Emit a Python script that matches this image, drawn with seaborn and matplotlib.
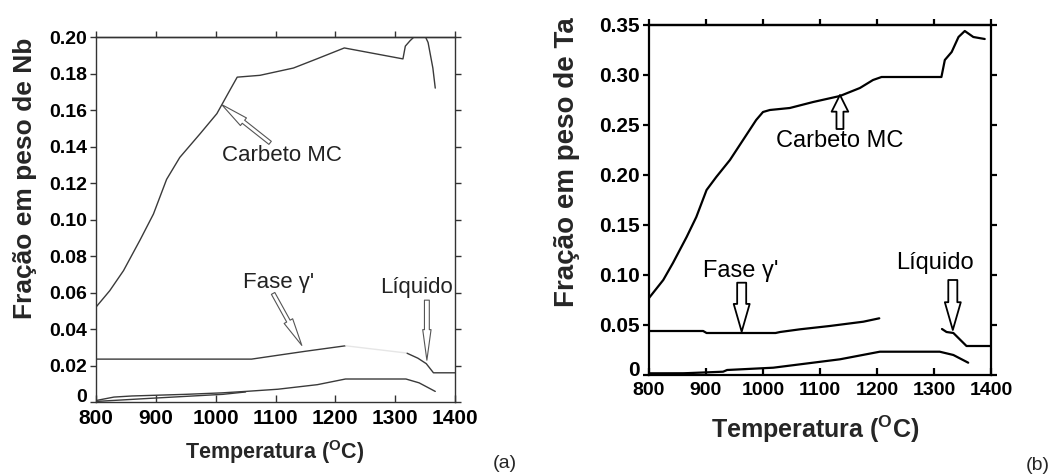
import matplotlib
matplotlib.use("Agg")
import matplotlib.pyplot as plt
import matplotlib.transforms as mtransforms
import seaborn as sns

# ---------------- data: panel (a) Nb ----------------
carb_a_T = [800, 823, 846, 874, 896, 918, 940, 974, 1002, 1024, 1036, 1074, 1130, 1169, 1215,
            1313, 1317, 1325, 1333, 1342, 1350, 1355, 1359, 1363, 1367]
carb_a_y = [0.052, 0.061, 0.072, 0.089, 0.103, 0.122, 0.134, 0.147, 0.158, 0.171, 0.178, 0.179,
            0.183, 0.188, 0.194, 0.188, 0.195, 0.198, 0.2005, 0.2008, 0.2005, 0.197, 0.19, 0.183, 0.172]
fase_a_T = [800, 1060, 1108, 1150, 1217]
fase_a_y = [0.0235, 0.0235, 0.0258, 0.0278, 0.0308]
fase_faded_a_T = [1217, 1320]
fase_faded_a_y = [0.0308, 0.0268]
liq_a_T = [1320, 1338, 1352, 1364, 1400]
liq_a_y = [0.0267, 0.0240, 0.0210, 0.0160, 0.0160]
low_a_T = [800, 830, 860, 950, 1010, 1050, 1104, 1170, 1217, 1318, 1340, 1367]
low_a_y = [0.0008, 0.0027, 0.0033, 0.0042, 0.0050, 0.0058, 0.0070, 0.0095, 0.0126, 0.0126, 0.0105, 0.0058]
low2_a_T = [800, 890, 1012, 1050]
low2_a_y = [0.0003, 0.0020, 0.0042, 0.0055]

# ---------------- data: panel (b) Ta ----------------
carb_b_T = [800, 825, 842, 866, 883, 901, 918, 942, 965, 988, 1000, 1012, 1047, 1088, 1135, 1170,
            1193, 1208, 1313, 1319, 1331, 1343, 1354, 1369, 1389]
carb_b_y = [0.077, 0.095, 0.112, 0.138, 0.158, 0.185, 0.198, 0.215, 0.235, 0.255, 0.263, 0.265,
            0.267, 0.273, 0.279, 0.287, 0.295, 0.298, 0.298, 0.315, 0.323, 0.338, 0.344, 0.338, 0.336]
fase_b_T = [800, 895, 901, 1022, 1030, 1065, 1117, 1176, 1204]
fase_b_y = [0.044, 0.044, 0.042, 0.042, 0.043, 0.0457, 0.049, 0.0533, 0.0567]
liq_b_T = [1314, 1322, 1334, 1357, 1400]
liq_b_y = [0.046, 0.043, 0.042, 0.029, 0.029]
low_b_T = [800, 860, 930, 937, 1018, 1135, 1205, 1310, 1334, 1360]
low_b_y = [0.0017, 0.0017, 0.0033, 0.0050, 0.0073, 0.0157, 0.0233, 0.0233, 0.0200, 0.0123]
low2_b_T = [800, 870]
low2_b_y = [0.0008, 0.0012]

x_ticks = [800, 900, 1000, 1100, 1200, 1300, 1400]
x_tick_labels = ["800", "900", "1000", "1100", "1200", "1300", "1400"]
y_ticks_a = [0, 0.02, 0.04, 0.06, 0.08, 0.10, 0.12, 0.14, 0.16, 0.18, 0.20]
y_tick_labels_a = ["0", "0.02", "0.04", "0.06", "0.08", "0.10", "0.12", "0.14", "0.16", "0.18", "0.20"]
y_ticks_b = [0, 0.05, 0.10, 0.15, 0.20, 0.25, 0.30, 0.35]
y_tick_labels_b = ["0", "0.05", "0.10", "0.15", "0.20", "0.25", "0.30", "0.35"]

xlabel = r"Temperatura ($\mathbf{^{O}}$C)"
ylabel_a = "Fração em peso de Nb"
ylabel_b = "Fração em peso de Ta"

# ---------------- style ----------------
sns.set_theme(style="white")
plt.rcParams["font.family"] = ["Liberation Sans", "DejaVu Sans"]
plt.rcParams["mathtext.fontset"] = "custom"
plt.rcParams["mathtext.bf"] = "Liberation Sans:bold"
plt.rcParams["mathtext.rm"] = "Liberation Sans"

fig = plt.figure(figsize=(10.56, 4.75), dpi=100)
fig.patch.set_facecolor("white")

ax_a = fig.add_axes([96 / 1056, 1 - 402 / 475, 359 / 1056, 365 / 475])
ax_b = fig.add_axes([649 / 1056, 1 - 375 / 475, 342 / 1056, 350 / 475])


def line(ax, T, y, color, lw):
    sns.lineplot(x=T, y=y, ax=ax, color=color, lw=lw, sort=False, estimator=None, legend=False)


def style_axes(ax, yt, ytl, color, lw, xfs, yfs, xpad):
    ax.set_xlim(800, 1400)
    ax.set_ylim(yt[0], yt[-1])
    ax.set_xticks(x_ticks)
    ax.set_xticklabels(x_tick_labels, fontsize=xfs, fontweight="bold")
    ax.set_yticks(yt)
    ax.set_yticklabels(ytl, fontsize=yfs, fontweight="bold")
    for s in ax.spines.values():
        s.set_visible(True)
        s.set_color(color)
        s.set_linewidth(lw)
    ax.tick_params(axis="x", direction="in", length=5, width=lw, color=color, pad=xpad,
                   bottom=True, top=False, labelcolor="black")
    ax.tick_params(axis="y", direction="out", length=4.5, width=lw, color=color, pad=2,
                   left=True, right=True, labelleft=True, labelright=False, labelcolor="black")
    # lift the "0" label slightly so it sits just above the "800" label
    lab0 = ax.get_yticklabels()[0]
    lab0.set_transform(lab0.get_transform() +
                       mtransforms.ScaledTranslation(0, 4.5 / 72, fig.dpi_scale_trans))
    sec = ax.secondary_xaxis("top")
    sec.set_xticks(x_ticks)
    sec.tick_params(direction="out", length=4.5, width=lw, color=color, labeltop=False)
    sec.spines["top"].set_color(color)
    sec.spines["top"].set_linewidth(lw)
    ax.grid(False)


def block_arrow(ax, tail, tip, hl, hw, tw, ec, lw):
    ax.annotate("", xy=tip, xytext=tail, xycoords="data", textcoords="data",
                arrowprops=dict(arrowstyle=f"simple,head_length={hl},head_width={hw},tail_width={tw}",
                                fc="white", ec=ec, lw=lw, shrinkA=0, shrinkB=0, mutation_scale=10))


# ---------------- panel (a) ----------------
ca = "#3a3a3a"
line(ax_a, carb_a_T, carb_a_y, ca, 1.0)
line(ax_a, fase_a_T, fase_a_y, ca, 1.0)
line(ax_a, fase_faded_a_T, fase_faded_a_y, "#e6e6e6", 1.0)
line(ax_a, liq_a_T, liq_a_y, ca, 1.0)
line(ax_a, low_a_T, low_a_y, ca, 1.0)
line(ax_a, low2_a_T, low2_a_y, ca, 1.0)
style_axes(ax_a, y_ticks_a, y_tick_labels_a, "#333333", 1.0, 15, 14, 5)
ax_a.set_xlabel(xlabel, fontsize=15.5, fontweight="bold")
ax_a.set_ylabel(ylabel_a, fontsize=19, fontweight="bold")
ax_a.xaxis.set_label_coords(0.499, -0.099)
ax_a.yaxis.set_label_coords(-0.164, 0.612)

ax_a.text(1111, 0.1353, "Carbeto MC", fontsize=16, color="#222", ha="center", va="center")
ax_a.text(1105, 0.0655, "Fase γ'", fontsize=16, color="#222", ha="center", va="center")
ax_a.text(1335, 0.0627, "Líquido", fontsize=16, color="#222", ha="center", va="center")
block_arrow(ax_a, (1091, 0.142), (1010, 0.163), 2.0, 0.7, 0.28, "#555", 0.8)
block_arrow(ax_a, (1096, 0.0595), (1144, 0.031), 2.0, 0.7, 0.28, "#555", 0.8)
block_arrow(ax_a, (1353, 0.0558), (1353, 0.0229), 2.2, 0.6, 0.35, "#555", 0.8)

# ---------------- panel (b) ----------------
cb = "black"
line(ax_b, carb_b_T, carb_b_y, cb, 1.6)
line(ax_b, fase_b_T, fase_b_y, cb, 1.6)
line(ax_b, liq_b_T, liq_b_y, cb, 1.6)
line(ax_b, low_b_T, low_b_y, cb, 1.6)
line(ax_b, low2_b_T, low2_b_y, cb, 1.6)
style_axes(ax_b, y_ticks_b, y_tick_labels_b, "black", 1.6, 14, 15, 5)
ax_b.set_xlabel(xlabel, fontsize=18, fontweight="bold")
ax_b.set_ylabel(ylabel_b, fontsize=20, fontweight="bold")
ax_b.xaxis.set_label_coords(0.487, -0.109)
ax_b.yaxis.set_label_coords(-0.202, 0.609)

ax_b.text(1135, 0.234, "Carbeto MC", fontsize=17, color="black", ha="center", va="center")
ax_b.text(961, 0.104, "Fase γ'", fontsize=17, color="black", ha="center", va="center")
ax_b.text(1302, 0.1115, "Líquido", fontsize=17, color="black", ha="center", va="center")
block_arrow(ax_b, (1135, 0.246), (1135, 0.280), 1.2, 1.2, 0.5, "black", 1.3)
block_arrow(ax_b, (962.6, 0.0923), (962.6, 0.0433), 2.0, 1.15, 0.65, "black", 1.3)
block_arrow(ax_b, (1333, 0.095), (1333, 0.045), 2.0, 1.15, 0.65, "black", 1.3)

fig.text(505 / 1056, 1 - 463 / 475, "(a)", fontsize=14, ha="center", va="center")
fig.text(1038 / 1056, 1 - 465 / 475, "(b)", fontsize=14, ha="center", va="center")

fig.savefig("out.png", dpi=100, facecolor="white")
